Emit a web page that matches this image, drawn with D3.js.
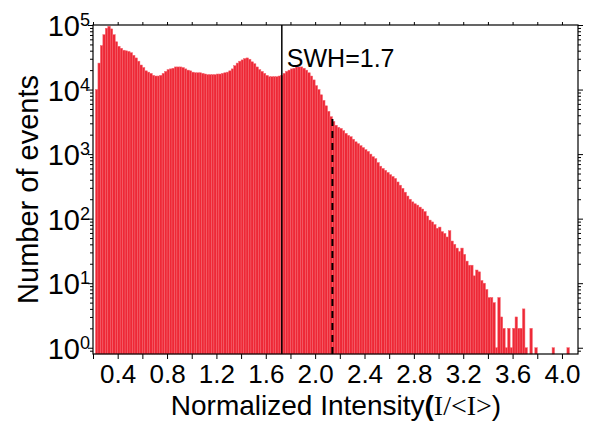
<!DOCTYPE html>
<html>
<head>
<meta charset="utf-8">
<script src="https://cdn.jsdelivr.net/npm/d3@7/dist/d3.min.js"></script>
<style>
  html, body { margin: 0; padding: 0; background: #fff; }
  svg { display: block; }
  text { font-family: "Liberation Sans", Arial, sans-serif; fill: #000; }
</style>
</head>
<body>
<svg id="chart" width="596" height="424"></svg>
<script>
// histogram of normalized intensity, bins of 0.02 starting at 0.22
const binStart = 0.22;
const binWidth = 0.02;
const counts = [
  10000, 25700, 47900, 70800, 89100, 95500, 87100, 70800, 55000, 46800,
  43600, 40700, 39800, 38900, 37200, 33900, 30900, 27500, 24000, 21900,
  19500, 18600, 17800, 16600, 16200, 16200, 16600, 17800, 19100, 20400,
  20900, 21400, 22400, 22400, 22400, 21900, 20900, 20000, 19500, 18600,
  18200, 18200, 18200, 17800, 17400, 17000, 17000, 17000, 17000, 17400,
  17400, 17800, 18200, 18600, 19500, 20900, 23400, 25700, 27500, 28800,
  30200, 30900, 29500, 26900, 25100, 22400, 20400, 19100, 17800, 16600,
  15800, 15800, 15800, 15800, 16200, 16600, 17800, 19100, 20000, 20900,
  21400, 22400, 22400, 22400, 21400, 20000, 18200, 16200, 14100, 11500,
  10000, 8300, 6800, 5600, 4600, 3800, 3200, 2800, 2600, 2500,
  2300, 2100, 1950, 1860, 1700, 1550, 1450, 1350, 1260, 1170,
  1100, 1000, 910, 850, 740, 650, 600, 560, 520, 480,
  450, 420, 370, 330, 295, 257, 224, 200, 182, 170,
  162, 151, 141, 129, 110, 95, 89, 81, 71, 74,
  63, 59, 52, 65, 45, 40, 35, 31, 35, 28,
  22, 19, 19, 13, 16, 15, 11, 10, 8, 6,
  6, 5, 1, 6, 3, 2, 1, 2, 1, 2,
  3, 2, 2, 4, 1, 0, 2, 0, 1, 0,
  0, 0, 0, 0, 0, 1, 0, 0, 0, 0,
  0, 1
];

const swhValue = 1.73;      // solid marker line
const swhLabel = "SWH=1.7";
const dashValue = 2.14;     // dashed marker line
const dashTop = 3500;

const xTicks = [0.4, 0.8, 1.2, 1.6, 2.0, 2.4, 2.8, 3.2, 3.6, 4.0];
const xMinorTicks = [0.2, 0.6, 1.0, 1.4, 1.8, 2.2, 2.6, 3.0, 3.4, 3.8];
const yTicks = [1, 10, 100, 1000, 10000, 100000];

const margin = { left: 93, right: 18, top: 25, bottom: 70 };
const W = 596, H = 424;

const svg = d3.select("#chart");

const x = d3.scaleLinear()
  .domain([0.2, 4.13])
  .range([margin.left, W - margin.right]);

const y = d3.scaleLog()
  .domain([0.8, 1e5])
  .range([H - margin.bottom, margin.top]);

// bars
const bins = counts.map((c, i) => ({ x0: binStart + i * binWidth, x1: binStart + (i + 1) * binWidth, c: c }))
  .filter(d => d.c > 0);

svg.append("g")
  .selectAll("rect")
  .data(bins)
  .join("rect")
  .attr("x", d => x(d.x0))
  .attr("width", d => x(d.x1) - x(d.x0))
  .attr("y", d => y(d.c))
  .attr("height", d => y(0.8) - y(d.c))
  .attr("fill", "#ee2836")
  .attr("stroke", "#f4636d")
  .attr("stroke-width", 0.5);

// marker lines
svg.append("line")
  .attr("x1", x(swhValue)).attr("x2", x(swhValue))
  .attr("y1", y.range()[1]).attr("y2", y.range()[0])
  .attr("stroke", "#000").attr("stroke-width", 1.5);

svg.append("line")
  .attr("x1", x(dashValue)).attr("x2", x(dashValue))
  .attr("y1", y(dashTop)).attr("y2", y.range()[0] + 4)
  .attr("stroke", "#000").attr("stroke-width", 2)
  .attr("stroke-dasharray", "7,5");

svg.append("text")
  .attr("x", x(swhValue) + 5)
  .attr("y", 67)
  .attr("font-size", 25)
  .text(swhLabel);

// frame
svg.append("rect")
  .attr("x", margin.left).attr("y", margin.top)
  .attr("width", x.range()[1] - margin.left)
  .attr("height", y.range()[0] - margin.top)
  .attr("fill", "none").attr("stroke", "#000").attr("stroke-width", 1.2);

// axes
const minorLog = [];
for (let e = 0; e < 5; e++) for (let m = 2; m <= 9; m++) minorLog.push(m * Math.pow(10, e));
minorLog.unshift(0.9);

const xAxis = d3.axisBottom(x).tickValues(xTicks).tickFormat(d3.format(".1f")).tickSize(5).tickPadding(6);
const gx = svg.append("g").attr("transform", `translate(0,${y.range()[0]})`).call(xAxis);
gx.select(".domain").remove();
gx.selectAll("text")
  .attr("font-size", 26)
  .attr("font-family", "Liberation Sans, Arial, sans-serif");
svg.append("g").attr("transform", `translate(0,${y.range()[0]})`)
  .call(d3.axisBottom(x).tickValues(xMinorTicks).tickSize(5).tickFormat(""))
  .select(".domain").remove();

const xTop = svg.append("g").attr("transform", `translate(0,${margin.top})`)
  .call(d3.axisTop(x).tickValues(xTicks.concat(xMinorTicks)).tickSize(3).tickFormat(""));
xTop.select(".domain").remove();

const yAxis = d3.axisLeft(y).tickValues(yTicks).tickSize(5).tickFormat("");
const gy = svg.append("g").attr("transform", `translate(${margin.left},0)`).call(yAxis);
gy.select(".domain").remove();
gy.selectAll(".tick").append("text")
  .attr("x", -3).attr("dy", "0.36em")
  .attr("text-anchor", "end")
  .attr("font-size", 29)
  .attr("fill", "#000")
  .html(d => "10<tspan dy='-0.55em' font-size='18'>" + Math.round(Math.log10(d)) + "</tspan>");
svg.append("g").attr("transform", `translate(${margin.left},0)`)
  .call(d3.axisLeft(y).tickValues(minorLog).tickSize(3).tickFormat(""))
  .select(".domain").remove();

const gyr = svg.append("g").attr("transform", `translate(${x.range()[1]},0)`)
  .call(d3.axisRight(y).tickValues(yTicks).tickSize(5).tickFormat(""));
gyr.select(".domain").remove();
svg.append("g").attr("transform", `translate(${x.range()[1]},0)`)
  .call(d3.axisRight(y).tickValues(minorLog).tickSize(3).tickFormat(""))
  .select(".domain").remove();

svg.selectAll(".tick line").attr("stroke", "#000");

// axis titles
svg.append("text")
  .attr("transform", `translate(38,${(margin.top + y.range()[0]) / 2}) rotate(-90)`)
  .attr("text-anchor", "middle")
  .attr("font-size", 29)
  .text("Number of events");

const xt = svg.append("text")
  .attr("x", 336)
  .attr("y", 415)
  .attr("text-anchor", "middle")
  .attr("font-size", 28);
xt.append("tspan").text("Normalized Intensity");
xt.append("tspan").attr("font-weight", "bold").text("(");
xt.append("tspan").attr("font-family", "Liberation Serif, Times New Roman, serif").text("I/<I>");
xt.append("tspan").text(")");
</script>
</body>
</html>
